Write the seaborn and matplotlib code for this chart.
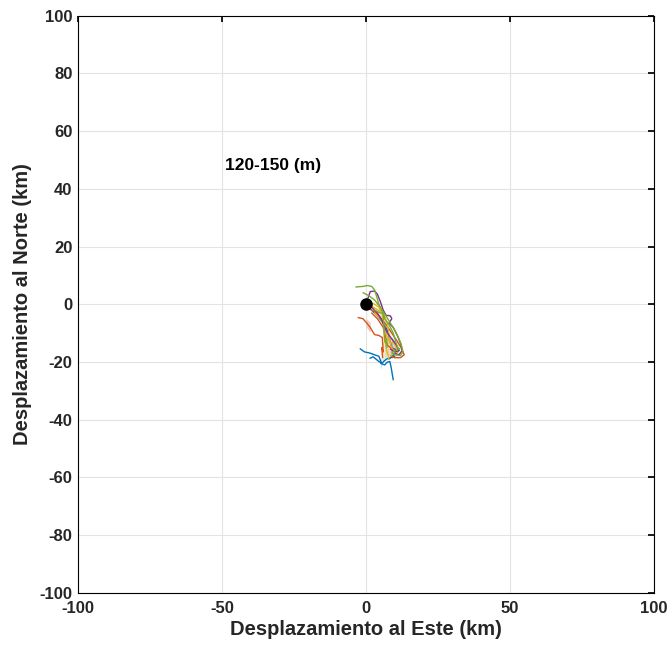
import numpy as np
import pandas as pd
import seaborn as sns
import matplotlib.pyplot as plt

sns.set_theme(style="whitegrid")
plt.rcParams['font.family'] = ['Liberation Sans', 'DejaVu Sans']
plt.rcParams['axes.unicode_minus'] = False

# trajectories (km)
greenA_x = [-3.5, -1.0, 0.5, 2.0, 3.0, 3.8, 4.5, 5.5, 7.0, 8.5, 10.0, 11.3, 12.3, 12.8, 12.0, 10.5, 9.0]
greenA_y = [6.0, 6.2, 6.5, 6.2, 5.0, 2.5, 0.0, -2.0, -4.0, -6.5, -9.0, -11.5, -14.0, -16.5, -17.8, -17.5, -16.8]
greenB_x = [-1.0, 1.0, 3.0, 5.0, 6.0, 6.5, 7.0, 7.2, 7.3, 7.0, 6.5]
greenB_y = [4.0, 3.0, 1.5, -1.0, -3.0, -6.0, -9.0, -12.0, -15.0, -18.0, -19.5]
greenC_x = [3.0, 5.0, 6.0, 5.0, 6.5, 8.0, 9.5, 11.0, 11.8, 11.0, 9.0]
greenC_y = [-2.0, -1.5, -3.0, -4.5, -5.0, -7.0, -10.0, -13.0, -15.5, -17.0, -16.5]
purpleA_x = [0.5, 1.5, 3.0, 4.0, 5.0, 6.0, 7.0, 8.5, 9.0, 8.0, 9.5, 11.0, 12.2, 12.6, 11.5, 10.0]
purpleA_y = [1.5, 4.4, 4.6, 3.5, 1.0, -2.0, -3.8, -4.0, -5.0, -6.5, -8.0, -11.0, -14.0, -16.0, -17.5, -17.0]
purpleB_x = [2.0, 4.0, 5.5, 6.5, 7.5, 9.0, 10.5, 11.5, 10.0, 8.5]
purpleB_y = [-1.0, -3.0, -5.5, -8.0, -10.0, -12.0, -14.0, -16.0, -16.5, -15.5]
yellowA_x = [1.0, 3.0, 4.5, 5.5, 6.0, 6.3, 6.5, 7.0, 7.5, 8.0]
yellowA_y = [1.0, 0.0, -1.0, -3.0, -6.0, -9.0, -12.0, -15.0, -17.0, -19.0]
yellowB_x = [1.5, 3.5, 5.0, 6.5, 7.5, 8.5, 9.5, 10.5, 11.0, 10.0, 8.5]
yellowB_y = [-0.5, -1.5, -2.5, -4.0, -7.0, -10.0, -13.0, -15.0, -16.5, -17.2, -16.8]
yellowC_x = [3.0, 5.0, 6.5, 7.0, 8.0, 9.0, 9.5, 8.5]
yellowC_y = [-3.0, -5.0, -7.5, -10.0, -12.5, -15.0, -17.0, -18.0]
orangeA_x = [-2.7, -1.0, 0.5, 1.5, 0.5, 1.5, 3.0, 4.5, 5.7, 6.0, 5.5, 6.0, 5.8, 6.0]
orangeA_y = [-4.6, -5.0, -5.5, -6.5, -8.0, -9.5, -10.5, -10.8, -11.5, -13.0, -15.0, -16.5, -18.5, -20.0]
orangeB_x = [1.0, 3.0, 5.0, 7.0, 9.0, 11.0, 12.5, 13.3, 12.0, 10.0, 8.5]
orangeB_y = [-1.5, -2.5, -4.5, -7.0, -10.0, -13.0, -15.5, -17.5, -18.5, -18.5, -17.8]
orangeC_x = [2.0, 4.0, 6.0, 7.5, 9.0, 10.0, 9.0, 7.5]
orangeC_y = [-3.0, -5.0, -8.0, -11.0, -13.5, -15.5, -17.0, -17.5]
blueA_x = [-2.0, -0.5, 1.4, 3.0, 4.5, 5.4, 5.2, 5.4, 6.5, 7.5, 8.3, 8.8, 9.2, 9.5]
blueA_y = [-15.4, -16.5, -16.9, -17.5, -18.0, -18.7, -20.5, -22.0, -21.0, -20.0, -19.8, -22.0, -24.5, -26.2]
blueB_x = [1.4, 2.5, 3.5, 4.5, 5.5, 6.5, 7.5, 8.5, 10.0]
blueB_y = [-18.7, -18.2, -19.0, -19.8, -20.5, -19.5, -18.8, -18.5, -18.0]
blueC_x = [1.0, 2.5, 4.0, 6.0, 7.5, 9.0, 10.5, 11.5, 10.5, 9.0, 8.0]
blueC_y = [-1.0, -2.5, -4.0, -6.5, -9.0, -11.5, -14.0, -16.0, -17.5, -18.5, -19.0]

tracks = [
    (blueA_x, blueA_y, "#0072BD"),
    (blueB_x, blueB_y, "#0072BD"),
    (blueC_x, blueC_y, "#0072BD"),
    (orangeA_x, orangeA_y, "#D95319"),
    (orangeB_x, orangeB_y, "#D95319"),
    (orangeC_x, orangeC_y, "#D95319"),
    (yellowA_x, yellowA_y, "#EDB120"),
    (yellowB_x, yellowB_y, "#EDB120"),
    (yellowC_x, yellowC_y, "#EDB120"),
    (purpleA_x, purpleA_y, "#7E2F8E"),
    (purpleB_x, purpleB_y, "#7E2F8E"),
    (greenA_x, greenA_y, "#77AC30"),
    (greenB_x, greenB_y, "#77AC30"),
    (greenC_x, greenC_y, "#77AC30"),
]

fig = plt.figure(figsize=(6.72, 6.53), dpi=100)
ax = fig.add_axes([0.116, 0.092, 0.857, 0.884])

for tx, ty, col in tracks:
    d = pd.DataFrame({"x": tx, "y": ty})
    sns.lineplot(x="x", y="y", data=d, sort=False, color=col, linewidth=1.0, ax=ax)

ax.plot([0], [0], marker="o", color="black", markersize=8)
ax.text(-49, 48, "120-150 (m)", fontsize=12.5, fontweight="bold", ha="left", va="center", color="black")

ax.set_xlim(-100, 100)
ax.set_ylim(-100, 100)
ax.set_xticks([-100, -50, 0, 50, 100])
ax.set_yticks(np.arange(-100, 101, 20))
ax.grid(True, color="#e3e3e3", linewidth=0.8)
for s in ax.spines.values():
    s.set_color("black")
    s.set_linewidth(0.8)
ax.tick_params(direction="in", length=4, top=True, right=True, labelsize=12, colors="black",
               labelcolor="#262626")
ax.tick_params(axis="y", pad=4)
ax.tick_params(axis="x", pad=6)
for lab in ax.get_xticklabels() + ax.get_yticklabels():
    lab.set_fontweight("bold")
ax.set_xlabel("Desplazamiento al Este (km)", fontsize=14.5, fontweight="bold", color="#262626", labelpad=3)
ax.set_ylabel("Desplazamiento al Norte (km)", fontsize=14.5, fontweight="bold", color="#262626", labelpad=5)

plt.savefig("out.png", dpi=100)
